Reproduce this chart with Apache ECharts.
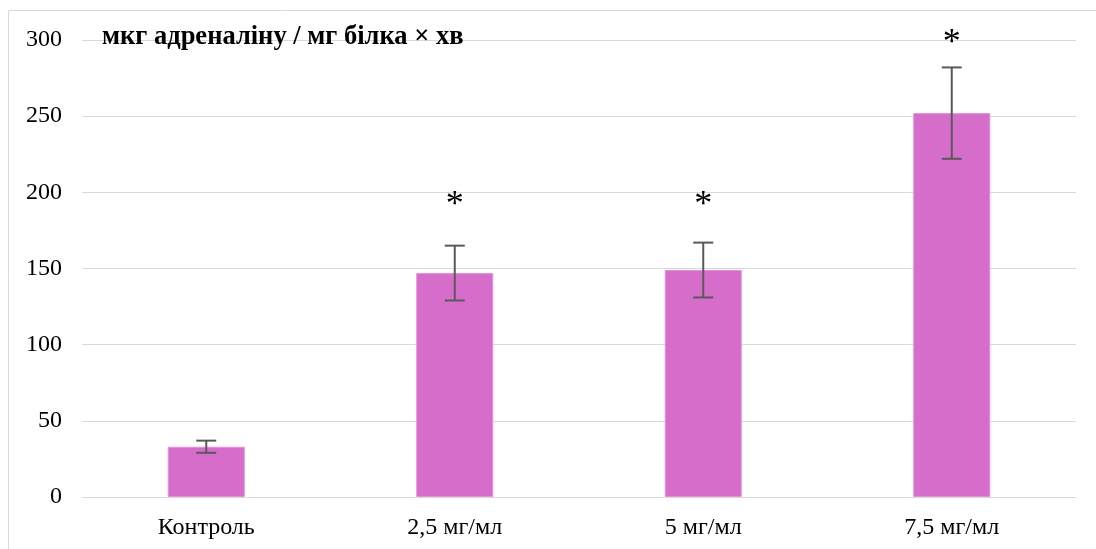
<!DOCTYPE html>
<html>
<head>
<meta charset="utf-8">
<script src="https://cdn.jsdelivr.net/npm/echarts@6/dist/echarts.min.js"></script>
<style>
  html, body { margin: 0; padding: 0; background: #fff; }
  #chart { width: 1096px; height: 549px; }
</style>
</head>
<body>
<div id="chart"></div>
<script>
const categories = ['Контроль', '2,5 мг/мл', '5 мг/мл', '7,5 мг/мл'];
const values = [33, 147, 149, 252];
const errors = [4, 18, 18, 30];
// where the significance stars sit (value units), null = no star
const starLevels = [null, 196, 196, 302];

const chart = echarts.init(document.getElementById('chart'));

const errorData = values.map((v, i) => [i, v - errors[i], v + errors[i]]);
const starData = starLevels.map((s, i) => [i, s]).filter(d => d[1] !== null);

chart.setOption({
  animation: false,
  graphic: [{
    type: 'polyline',
    shape: { points: [[8.5, 549], [8.5, 10.5], [1096, 10.5]] },
    style: { stroke: '#d9d9d9', lineWidth: 1, fill: null }
  }],
  title: {
    text: 'мкг адреналіну / мг білка × хв',
    left: 97,
    top: 19,
    textStyle: {
      fontFamily: 'Liberation Serif',
      fontWeight: 'bold',
      fontSize: 26.5,
      color: '#000'
    }
  },
  grid: { left: 82, right: 20, top: 40, bottom: 52 },
  xAxis: {
    type: 'category',
    data: categories,
    axisLine: { lineStyle: { color: '#d9d9d9', width: 1 } },
    axisTick: { show: false },
    axisLabel: {
      fontFamily: 'Liberation Serif',
      fontSize: 24,
      color: '#000',
      margin: 19
    }
  },
  yAxis: {
    type: 'value',
    min: 0,
    max: 300,
    interval: 50,
    axisLine: { show: false },
    axisTick: { show: false },
    splitLine: { lineStyle: { color: '#d9d9d9', width: 1 } },
    axisLabel: {
      fontFamily: 'Liberation Serif',
      fontSize: 24,
      color: '#000',
      margin: 20
    }
  },
  series: [
    {
      type: 'bar',
      data: values,
      barWidth: '31%',
      itemStyle: { color: '#d66dcb', borderColor: '#e690dc', borderWidth: 1 }
    },
    {
      type: 'custom',
      data: errorData,
      z: 10,
      renderItem: function (params, api) {
        const x = api.coord([api.value(0), api.value(1)])[0];
        const lo = api.coord([api.value(0), api.value(1)])[1];
        const hi = api.coord([api.value(0), api.value(2)])[1];
        const cap = 10;
        const style = { stroke: '#595959', lineWidth: 2 };
        return {
          type: 'group',
          children: [
            { type: 'line', shape: { x1: x, y1: lo, x2: x, y2: hi }, style: style },
            { type: 'line', shape: { x1: x - cap, y1: lo, x2: x + cap, y2: lo }, style: style },
            { type: 'line', shape: { x1: x - cap, y1: hi, x2: x + cap, y2: hi }, style: style }
          ]
        };
      }
    },
    {
      type: 'custom',
      data: starData,
      z: 10,
      renderItem: function (params, api) {
        const p = api.coord([api.value(0), api.value(1)]);
        return {
          type: 'text',
          x: p[0],
          y: p[1] + 7,
          style: {
            text: '*',
            fontFamily: 'Liberation Serif',
            fontSize: 36,
            fill: '#000',
            align: 'center',
            verticalAlign: 'middle'
          }
        };
      }
    }
  ]
});
</script>
</body>
</html>
